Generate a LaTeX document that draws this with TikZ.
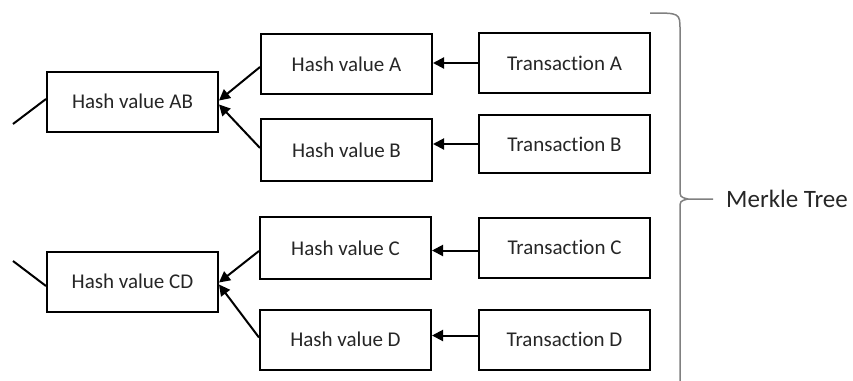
\documentclass[tikz,border=0pt]{standalone}
\usepackage{fontspec}
\setmainfont{Carlito}[Ligatures=NoCommon]
\usetikzlibrary{arrows.meta}
\begin{document}
\begin{tikzpicture}[x=1pt,y=-1pt,
  box/.style={draw=black, line width=2pt, minimum width=171pt, minimum height=60pt, inner sep=0pt,
    font=\fontsize{21}{25}\selectfont, text=black!85},
  arr/.style={line width=2pt, -{Triangle[length=11pt,width=11pt]}},
  link/.style={line width=2pt},
  bracepath/.style={draw=black!50, line width=1.5pt}]
\useasboundingbox (0,0) rectangle (853,380);
\clip (0,0) rectangle (853,380);
% hash AB group
\node[box] (AB) at (132.5,101.5) {Hash value AB};
\node[box] (A) at (346.5,64) {Hash value A};
\node[box, minimum height=62pt] (B) at (346.5,150) {Hash value B};
\node[box] (TA) at (564.5,63) {Transaction A};
\node[box, minimum height=58pt] (TB) at (564.5,144) {Transaction B};
% hash CD group
\node[box] (CD) at (132.5,281.5) {Hash value CD};
\node[box, minimum height=62pt] (C) at (345.5,248) {Hash value C};
\node[box] (D) at (345.5,339.5) {Hash value D};
\node[box] (TC) at (564.5,247.5) {Transaction C};
\node[box] (TD) at (564.5,339.5) {Transaction D};
% arrows
\draw[arr] (TA.west) -- (TA.west -| A.east);
\draw[arr] (TB.west) -- (TB.west -| B.east);
\draw[arr] ([yshift=-3pt]TC.west) -- ([yshift=-3pt]TC.west -| C.east);
\draw[arr] ([yshift=4pt]TD.west) -- ([yshift=4pt]TD.west -| D.east);
\draw[arr] ([yshift=-3pt]A.west) -- ([yshift=1pt]AB.east);
\draw[arr] ([yshift=2pt]B.west) -- ([yshift=-3pt]AB.east);
\draw[arr] ([yshift=-3pt]C.west) -- ([yshift=-1pt]CD.east);
\draw[arr] ([yshift=2pt]D.west) -- ([yshift=-3pt]CD.east);
% free ends to the left
\coordinate (abend) at (13,124);
\coordinate (cdend) at (13,261);
\draw[link] ([yshift=2.5pt]AB.west) -- (abend);
\draw[link] ([yshift=-4.5pt]CD.west) -- (cdend);
% brace
\coordinate (btop) at (650,13);
\coordinate (btip) at (713,199);
\coordinate (bbot) at (680,400);
\draw[bracepath] (btop) .. controls (680,13) and (680,13) .. (680,30) -- (680,189)
  .. controls (680,197) .. (688,199) -- (btip);
\draw[bracepath] (688,199) .. controls (680,201) .. (680,209) -- (bbot);
\node[anchor=west, inner sep=0pt, font=\fontsize{25}{30}\selectfont, text=black!85] (mt) at (726,199) {Merkle Tree};
\end{tikzpicture}
\end{document}
